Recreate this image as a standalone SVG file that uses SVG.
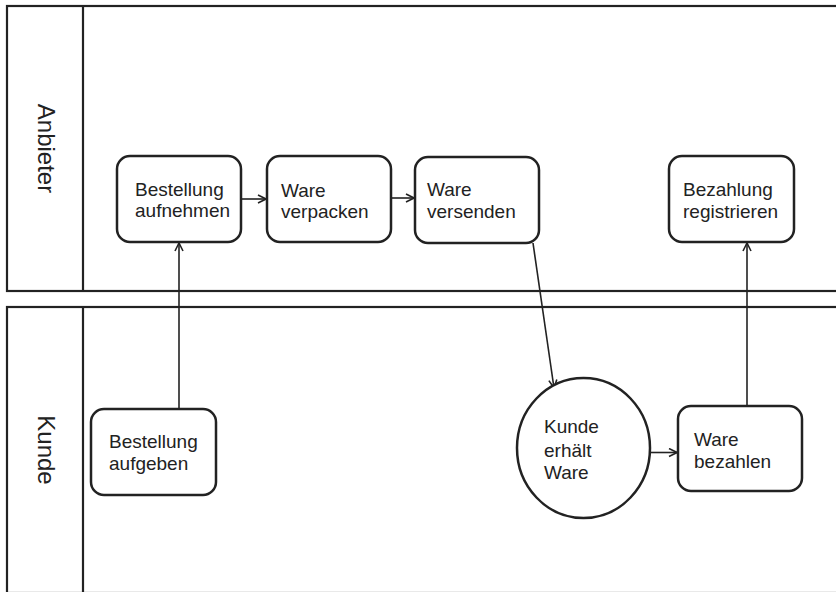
<svg xmlns="http://www.w3.org/2000/svg" width="836" height="592" viewBox="0 0 836 592">
<defs>
<style>
.lane{fill:none;stroke:#222;stroke-width:2.2}
.box{fill:#fff;stroke:#222;stroke-width:2.5}
.lbl{font-family:"Liberation Sans",Arial,sans-serif;font-size:19px;fill:#222}
.lanelbl{font-family:"Liberation Sans",Arial,sans-serif;font-size:24px;fill:#222}
.edge{fill:none;stroke:#222;stroke-width:1.6}
</style>
<marker id="arr" viewBox="0 0 10 10" refX="9" refY="5" markerWidth="10" markerHeight="10" markerUnits="userSpaceOnUse" orient="auto">
<path d="M1,1 L9,5 L1,9" fill="none" stroke="#222" stroke-width="1.6"/>
</marker>
</defs>
<rect width="836" height="592" fill="#fff"/>
<g id="lane-anbieter">
<rect class="lane" x="7" y="6" width="840" height="285"/>
<line class="lane" x1="83" y1="6" x2="83" y2="291"/>
<text class="lanelbl" transform="translate(46,148.5) rotate(90)" text-anchor="middle" dominant-baseline="central">Anbieter</text>
</g>
<g id="lane-kunde">
<rect class="lane" x="7" y="307" width="840" height="286"/>
<line class="lane" x1="83" y1="307" x2="83" y2="593"/>
<text class="lanelbl" transform="translate(46,450) rotate(90)" text-anchor="middle" dominant-baseline="central">Kunde</text>
</g>
<g id="connectors">
<line class="edge" x1="179" y1="409" x2="179" y2="243" marker-end="url(#arr)"/>
<line class="edge" x1="241" y1="199" x2="266" y2="199" marker-end="url(#arr)"/>
<line class="edge" x1="391" y1="198" x2="414" y2="198" marker-end="url(#arr)"/>
<line class="edge" x1="533" y1="243" x2="554" y2="388" marker-end="url(#arr)"/>
<line class="edge" x1="650" y1="452.5" x2="677" y2="452.5" marker-end="url(#arr)"/>
<line class="edge" x1="747" y1="406" x2="747" y2="243" marker-end="url(#arr)"/>
</g>
<g id="n-bestellung-aufnehmen">
<rect class="box" x="117" y="156" width="124" height="86" rx="13"/>
<text class="lbl" x="135" y="196">Bestellung</text>
<text class="lbl" x="135" y="217">aufnehmen</text>
</g>
<g id="n-ware-verpacken">
<rect class="box" x="267" y="156" width="124" height="86" rx="13"/>
<text class="lbl" x="281" y="197">Ware</text>
<text class="lbl" x="281" y="218">verpacken</text>
</g>
<g id="n-ware-versenden">
<rect class="box" x="415" y="157" width="124" height="86" rx="13"/>
<text class="lbl" x="427" y="196">Ware</text>
<text class="lbl" x="427" y="218">versenden</text>
</g>
<g id="n-bezahlung-registrieren">
<rect class="box" x="669" y="156" width="125" height="86" rx="13"/>
<text class="lbl" x="683" y="196">Bezahlung</text>
<text class="lbl" x="683" y="218">registrieren</text>
</g>
<g id="n-bestellung-aufgeben">
<rect class="box" x="91" y="409" width="125" height="86" rx="13"/>
<text class="lbl" x="109" y="448">Bestellung</text>
<text class="lbl" x="109" y="470">aufgeben</text>
</g>
<g id="n-kunde-erhaelt-ware">
<ellipse class="box" cx="583.5" cy="448" rx="66.5" ry="70"/>
<text class="lbl" x="544" y="433">Kunde</text>
<text class="lbl" x="544" y="456.5">erhält</text>
<text class="lbl" x="544" y="479">Ware</text>
</g>
<g id="n-ware-bezahlen">
<rect class="box" x="678" y="406" width="124" height="85" rx="13"/>
<text class="lbl" x="694" y="446">Ware</text>
<text class="lbl" x="694" y="468">bezahlen</text>
</g>
</svg>
